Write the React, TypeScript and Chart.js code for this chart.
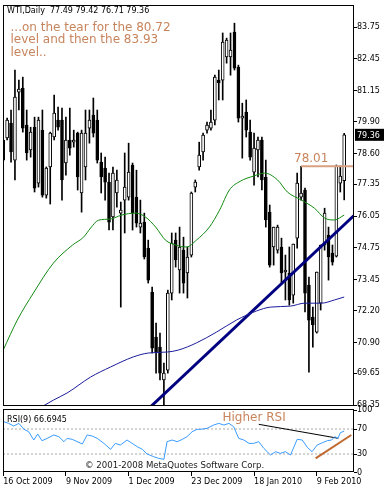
import React, { useEffect, useRef } from "react";
import { Chart, registerables } from "chart.js";

Chart.register(...registerables);

const FONT = "'DejaVu Sans', 'Noto Sans', sans-serif";
const BROWN = "#c8845c";

// Daily bars, 16 Oct 2009 .. 16 Feb 2010 (88 bars)
const opens = [
  78.33, 79.23, 79.84, 78.33, 81.10, 81.26, 79.76, 78.74, 79.67, 77.39,
  79.55, 76.90, 78.05, 79.27, 79.96, 79.96, 78.21, 79.15, 79.06, 79.43,
  76.99, 78.05, 79.63, 80.16, 79.96, 78.25, 78.00, 77.43, 76.01, 76.99,
  76.17, 76.70, 76.82, 78.13, 76.82, 75.60, 75.80, 74.74, 72.95, 71.12,
  70.71, 69.37, 69.77, 72.91, 75.07, 73.85, 74.66, 73.73, 74.46, 77.23,
  78.05, 78.66, 79.55, 79.63, 79.96, 81.59, 81.59, 82.53, 82.53, 83.55,
  82.12, 80.04, 80.29, 79.47, 77.84, 78.74, 79.15, 77.64, 76.21, 74.79,
  74.66, 74.79, 73.77, 73.73, 72.83, 75.15, 76.82, 77.11, 73.24, 71.93,
  71.32, 72.50, 74.87, 75.27, 74.54, 74.42, 77.39, 77.49,
];
const highs = [
  79.27, 80.04, 80.37, 82.00, 81.59, 81.71, 80.37, 79.67, 80.08, 80.08,
  80.37, 78.05, 79.47, 80.98, 80.49, 80.45, 80.08, 80.45, 79.55, 79.47,
  79.55, 80.37, 80.37, 80.86, 80.37, 78.62, 78.45, 77.80, 78.05, 77.92,
  76.62, 78.62, 79.02, 78.21, 77.92, 76.70, 76.17, 75.07, 73.16, 71.69,
  71.28, 70.06, 73.03, 75.36, 75.36, 75.60, 75.19, 74.79, 77.03, 77.52,
  79.06, 79.43, 79.88, 80.37, 81.79, 82.00, 83.51, 83.30, 83.51, 83.91,
  82.20, 80.65, 80.78, 79.96, 79.43, 79.27, 79.27, 78.33, 76.50, 75.60,
  75.68, 75.15, 74.46, 74.79, 74.91, 77.80, 78.08, 77.19, 73.56, 72.34,
  73.77, 74.87, 76.37, 75.60, 74.87, 78.13, 78.09, 79.42,
];
const lows = [
  77.31, 79.15, 78.25, 77.52, 80.37, 79.47, 78.33, 78.45, 77.03, 77.23,
  76.82, 76.78, 76.54, 79.15, 79.55, 76.70, 77.72, 78.53, 78.86, 77.11,
  76.21, 77.52, 79.02, 79.27, 78.21, 76.99, 76.70, 75.48, 75.48, 76.41,
  72.34, 75.36, 76.70, 75.48, 75.60, 75.36, 74.30, 73.32, 70.47, 69.65,
  69.37, 68.35, 69.65, 72.63, 73.97, 72.91, 72.91, 72.71, 74.38, 77.03,
  77.92, 78.33, 79.43, 79.55, 79.76, 80.78, 80.78, 82.28, 81.79, 82.00,
  79.88, 78.41, 79.27, 78.33, 77.31, 77.64, 77.11, 75.60, 73.97, 74.05,
  74.54, 73.32, 72.63, 72.42, 72.50, 74.74, 76.70, 72.14, 69.69, 70.71,
  71.28, 72.22, 74.66, 73.44, 74.05, 74.38, 77.03, 76.71,
];
const closes = [
  79.15, 79.96, 78.66, 80.90, 81.22, 79.63, 78.62, 79.47, 77.19, 79.96,
  76.90, 78.00, 79.43, 80.25, 79.67, 77.52, 79.15, 78.82, 79.15, 77.64,
  79.43, 79.43, 79.96, 79.43, 78.33, 77.64, 77.43, 75.80, 77.80, 77.52,
  76.29, 77.23, 77.84, 76.17, 75.76, 75.76, 74.38, 73.44, 70.67, 70.51,
  69.65, 69.65, 72.91, 74.95, 74.26, 74.79, 73.32, 74.38, 76.99, 77.43,
  78.53, 79.35, 79.76, 79.88, 81.71, 81.47, 83.14, 83.22, 82.81, 82.08,
  80.04, 80.12, 79.55, 78.45, 78.82, 79.15, 77.52, 75.89, 74.05, 75.60,
  75.60, 73.73, 73.85, 72.63, 74.91, 77.39, 76.99, 72.91, 71.81, 71.61,
  73.77, 74.87, 76.17, 74.38, 74.17, 78.09, 77.68, 79.36,
];

const dateLabels = ["16 Oct 2009", "9 Nov 2009", "1 Dec 2009", "23 Dec 2009", "18 Jan 2010", "9 Feb 2010"];
const dateLabelBars = [0, 16, 32, 48, 64, 80];

const priceTicks = [83.75, 82.45, 81.15, 79.9, 78.6, 77.35, 76.05, 74.75, 73.45, 72.2, 70.9, 69.65, 68.35];
const rsiTicks = [100, 70, 30, 0];
const rsiLevels = [70, 30];

// green moving average (read at bar positions)
const fastMaBars = [0, 3.6, 7.7, 12.8, 17.7, 20.5, 22.3, 24.3, 27.4, 30.2, 33.8, 36.3, 38.9, 41.4, 44.0, 46.8, 49.3, 52.6, 55.2, 57.7, 60.5, 63.9, 66.7, 70.0, 72.5, 76.1, 79.4, 82.0, 84.5, 87];
const fastMaValues = [70.59, 71.81, 72.91, 74.13, 74.87, 75.19, 75.56, 75.88, 75.93, 76.09, 76.17, 76.01, 75.60, 75.07, 74.87, 74.79, 75.07, 75.60, 76.29, 77.11, 77.47, 77.68, 77.80, 77.52, 77.03, 76.70, 76.37, 75.97, 75.89, 76.09];

// navy moving average
const slowMaBars = [10.2, 12.8, 16.3, 22.3, 27.4, 33.2, 37.1, 41.9, 44.7, 49.3, 54.4, 59.5, 64.6, 68.2, 73.3, 76.9, 81.2, 84.5, 87];
const slowMaValues = [68.31, 68.55, 68.84, 69.49, 69.90, 70.31, 70.47, 70.51, 70.59, 70.88, 71.32, 71.81, 72.18, 72.34, 72.38, 72.50, 72.50, 72.63, 72.75];

// drawn trend line and 78.01 resistance
const trendBars = [37.8, 89.5];
const trendValues = [68.31, 76.07];
const resistanceBars = [76, 89.5];
const resistanceValues = [78.08, 78.08];

// RSI(9)
const rsiBars = [0.15, 1.4, 2.7, 4.0, 5.3, 6.5, 7.8, 8.8, 9.9, 11.2, 12.9, 14.2, 15.5, 16.3, 17.6, 20.2, 21.4, 22.7, 24.0, 25.7, 27.4, 28.6, 29.9, 31.6, 32.9, 34.2, 35.5, 36.7, 38.4, 39.7, 41.0, 41.8, 43.1, 44.4, 45.7, 46.9, 48.2, 49.5, 50.3, 52.0, 53.7, 55.0, 56.3, 57.6, 58.8, 60.1, 61.4, 62.7, 63.9, 65.2, 66.5, 68.2, 69.5, 70.7, 72.0, 73.3, 75.0, 76.3, 77.6, 78.8, 80.1, 81.4, 82.7, 83.8, 84.6, 85.4, 86.0, 87.0];
const rsiValues = [81.7, 79, 74.8, 79, 69.5, 65.7, 52.4, 62, 51.3, 55, 60.4, 57.7, 49.7, 55, 53.5, 46, 60.4, 58.8, 55, 47, 37.5, 47, 44.4, 52.4, 47, 41.7, 37.5, 30, 25.7, 23, 21.5, 49.7, 52.4, 49.7, 53.5, 57.7, 65.7, 69.5, 69.5, 71, 76.4, 79, 76.4, 79, 73.7, 55, 52.4, 47, 47, 49.7, 39, 28.4, 33.7, 31, 33.7, 28.4, 53.5, 52.4, 40.7, 33.7, 44.4, 48, 51.3, 52.4, 57.7, 55, 64, 66.69];
const rsiDownBars = [65.2, 85.5];
const rsiDownValues = [77.5, 55.1];
const rsiUpBars = [79.7, 88.8];
const rsiUpValues = [23.1, 60.4];

const X_MIN = -0.05;
const X_MAX = 89.5;

const pts = (xs: number[], ys: number[]) => xs.map((x, i) => ({ x, y: ys[i] }));

const overlay = {
  id: "overlay",
  beforeDraw(chart: any) {
    const { ctx, width, height } = chart;
    ctx.save();
    ctx.fillStyle = "#fff";
    ctx.fillRect(0, 0, width, height);
    ctx.restore();
  },
  afterDraw(chart: any) {
    const { ctx, chartArea } = chart;
    const y = chart.scales.y;
    const r = chart.scales.rsi;
    const left = chartArea.left;
    const w = chartArea.right - chartArea.left;
    ctx.save();
    ctx.strokeStyle = "#000";
    ctx.lineWidth = 1;
    ctx.strokeRect(left + 0.5, y.top + 0.5, w - 1, y.bottom - y.top - 1);
    ctx.strokeRect(left + 0.5, r.top + 3.5, w - 1, r.bottom - r.top - 4);

    ctx.textBaseline = "alphabetic";
    ctx.textAlign = "left";
    ctx.fillStyle = "#000";
    ctx.font = `8px ${FONT}`;
    ctx.fillText(`WTI,Daily  ${opens[87].toFixed(2)} ${highs[87].toFixed(2)} ${lows[87].toFixed(2)} ${closes[87].toFixed(2)}`, 7, 13);
    ctx.fillText(`RSI(9) 66.6945`, 7, 421.5);

    ctx.fillStyle = "#1a1a1a";
    ctx.font = `8.6px ${FONT}`;
    ctx.fillText("\u00a9 2001-2008 MetaQuotes Software Corp.", 85, 468);

    ctx.fillStyle = BROWN;
    ctx.font = `12px ${FONT}`;
    ctx.fillText("...on the tear for the 80.72", 10.5, 30.5);
    ctx.fillText("level and then the 83.93", 10.5, 43);
    ctx.fillText("level..", 10.5, 55.5);
    ctx.fillText("78.01", 294, 161.5);
    ctx.fillText("Higher RSI", 222.5, 421);

    // current price box
    const yc = y.getPixelForValue(closes[87]);
    ctx.fillStyle = "#000";
    ctx.fillRect(chartArea.right + 1, yc - 6, 29, 12);
    ctx.fillStyle = "#fff";
    ctx.font = `8px ${FONT}`;
    ctx.fillText(closes[87].toFixed(2), chartArea.right + 3, yc + 3);
    ctx.restore();
  },
};

export default function App() {
  const ref = useRef<HTMLCanvasElement>(null);

  useEffect(() => {
    const canvas = ref.current;
    if (!canvas) return;
    const idx = opens.map((_, i) => i);
    const tickFont = { family: FONT, size: 8 };

    const chart = new Chart(canvas, {
      type: "bar",
      data: {
        datasets: [
          {
            type: "line",
            data: pts(fastMaBars, fastMaValues),
            borderColor: "#138a13",
            borderWidth: 1,
            pointRadius: 0,
            cubicInterpolationMode: "monotone",
            yAxisID: "y",
            order: 0,
          } as any,
          {
            type: "line",
            data: pts(slowMaBars, slowMaValues),
            borderColor: "#1c1c9c",
            borderWidth: 1,
            pointRadius: 0,
            cubicInterpolationMode: "monotone",
            yAxisID: "y",
            order: 0,
          },
          {
            type: "line",
            data: pts(trendBars, trendValues),
            borderColor: "#000080",
            borderWidth: 3,
            pointRadius: 0,
            yAxisID: "y",
            order: 0,
          },
          {
            type: "line",
            data: pts(resistanceBars, resistanceValues),
            borderColor: "#d9a080",
            borderWidth: 2,
            pointRadius: 0,
            yAxisID: "y",
            order: 0,
          },
          {
            type: "bar",
            data: idx.map((i) => ({ x: i, y: [opens[i], closes[i]] })),
            backgroundColor: idx.map((i) => (closes[i] >= opens[i] ? "#ffffff" : "#000000")),
            borderColor: "#000",
            borderWidth: 1,
            borderSkipped: false,
            barThickness: 3,
            minBarLength: 1,
            grouped: false,
            yAxisID: "y",
            order: 2,
          } as any,
          {
            type: "bar",
            data: idx.map((i) => ({ x: i, y: [lows[i], highs[i]] })),
            backgroundColor: "#000",
            borderWidth: 0,
            barThickness: 1,
            grouped: false,
            yAxisID: "y",
            order: 3,
          } as any,
          ...rsiLevels.map((lv) => ({
            type: "line",
            data: [{ x: X_MIN, y: lv }, { x: X_MAX, y: lv }],
            borderColor: "#a8a8a8",
            borderWidth: 1,
            borderDash: [2, 2],
            pointRadius: 0,
            yAxisID: "rsi",
            order: 1,
          })),
          {
            type: "line",
            data: pts(rsiBars, rsiValues),
            borderColor: "#3a9cff",
            borderWidth: 1,
            pointRadius: 0,
            tension: 0,
            yAxisID: "rsi",
            order: 0,
          },
          {
            type: "line",
            data: pts(rsiDownBars, rsiDownValues),
            borderColor: "#000",
            borderWidth: 1,
            pointRadius: 0,
            yAxisID: "rsi",
            order: 0,
          },
          {
            type: "line",
            data: pts(rsiUpBars, rsiUpValues),
            borderColor: "#c06a32",
            borderWidth: 2,
            pointRadius: 0,
            yAxisID: "rsi",
            order: 0,
          },
        ] as any,
      },
      options: {
        responsive: false,
        maintainAspectRatio: false,
        devicePixelRatio: 1,
        animation: false,
        layout: { padding: { left: 3, top: 5, right: 0, bottom: 0 } },
        plugins: { legend: { display: false }, tooltip: { enabled: false } },
        scales: {
          x: {
            type: "linear",
            position: "bottom",
            min: X_MIN,
            max: X_MAX,
            offset: false,
            grid: { drawOnChartArea: false, drawTicks: true, tickLength: 4, color: "#000", offset: false },
            border: { display: false },
            ticks: {
              font: tickFont,
              color: "#000",
              align: "start",
              maxRotation: 0,
              minRotation: 0,
              autoSkip: false,
              padding: 1,
              callback: (v: any) => {
                const k = dateLabelBars.indexOf(Number(v));
                return k >= 0 ? dateLabels[k] : "";
              },
            },
            afterBuildTicks: (s: any) => {
              s.ticks = dateLabelBars.map((v) => ({ value: v }));
            },
            afterFit: (s: any) => {
              s.height = 18;
            },
          },
          y: {
            type: "linear",
            position: "right",
            stack: "panes",
            stackWeight: 401,
            min: 68.31,
            max: 84.65,
            grid: { drawOnChartArea: false, tickLength: 3, color: "#000" },
            border: { display: false },
            ticks: {
              font: tickFont,
              color: "#000",
              padding: 0,
              autoSkip: false,
              callback: (v: any) => Number(v).toFixed(2),
            },
            afterBuildTicks: (s: any) => {
              s.ticks = priceTicks.map((v) => ({ value: v }));
            },
            afterFit: (s: any) => {
              s.width = 38;
            },
          },
          rsi: {
            type: "linear",
            position: "right",
            stack: "panes",
            stackWeight: 66,
            min: 1.2,
            max: 106.8,
            grid: { drawOnChartArea: false, tickLength: 3, color: "#000" },
            border: { display: false },
            ticks: {
              font: tickFont,
              color: "#000",
              padding: 0,
              autoSkip: false,
              callback: (v: any) => String(v),
            },
            afterBuildTicks: (s: any) => {
              s.ticks = rsiTicks.map((v) => ({ value: v }));
            },
            afterFit: (s: any) => {
              s.width = 38;
            },
          },
        } as any,
      },
      plugins: [overlay],
    });
    return () => chart.destroy();
  }, []);

  return (
    <div style={{ position: "absolute", left: 0, top: 0, width: 392, height: 490, background: "#fff" }}>
      <canvas ref={ref} width={392} height={490} style={{ display: "block", width: 392, height: 490 }} />
    </div>
  );
}
